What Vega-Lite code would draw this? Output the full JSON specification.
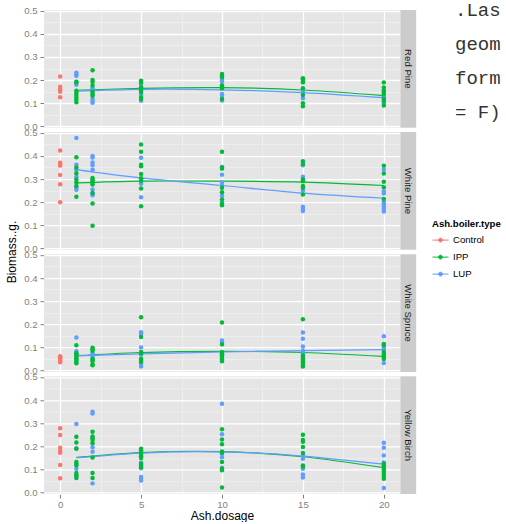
{
"$schema": "https://vega.github.io/schema/vega-lite/v6.json",
"padding": {"left": 5, "top": 0, "right": 0, "bottom": 0},
"background": "white",
"title": {"text": [".Las", "geom", "form", "= F)"], "orient": "top", "anchor": "start", "frame": "group", "align": "left", "baseline": "top", "font": "Liberation Mono", "fontSize": 19, "fontWeight": "normal", "color": "#333333", "lineHeight": 34, "dx": 411, "dy": -7, "offset": -123},
"data": {"values": [
{"k":"p","s":"Red Pine","t":"Control","x":0,"y":0.215},{"k":"p","s":"Red Pine","t":"Control","x":0,"y":0.171},{"k":"p","s":"Red Pine","t":"Control","x":0,"y":0.16},{"k":"p","s":"Red Pine","t":"Control","x":0,"y":0.15},{"k":"p","s":"Red Pine","t":"Control","x":0,"y":0.126},
{"k":"p","s":"Red Pine","t":"LUP","x":1,"y":0.232},{"k":"p","s":"Red Pine","t":"LUP","x":1,"y":0.225},{"k":"p","s":"Red Pine","t":"LUP","x":1,"y":0.219},{"k":"p","s":"Red Pine","t":"LUP","x":1,"y":0.18},
{"k":"p","s":"Red Pine","t":"IPP","x":1,"y":0.193},{"k":"p","s":"Red Pine","t":"IPP","x":1,"y":0.19},{"k":"p","s":"Red Pine","t":"IPP","x":1,"y":0.154},{"k":"p","s":"Red Pine","t":"IPP","x":1,"y":0.145},{"k":"p","s":"Red Pine","t":"IPP","x":1,"y":0.135},{"k":"p","s":"Red Pine","t":"IPP","x":1,"y":0.125},{"k":"p","s":"Red Pine","t":"IPP","x":1,"y":0.115},{"k":"p","s":"Red Pine","t":"IPP","x":1,"y":0.104},
{"k":"p","s":"Red Pine","t":"LUP","x":2,"y":0.165},{"k":"p","s":"Red Pine","t":"LUP","x":2,"y":0.118},{"k":"p","s":"Red Pine","t":"LUP","x":2,"y":0.11},{"k":"p","s":"Red Pine","t":"LUP","x":2,"y":0.102},
{"k":"p","s":"Red Pine","t":"IPP","x":2,"y":0.242},{"k":"p","s":"Red Pine","t":"IPP","x":2,"y":0.2},{"k":"p","s":"Red Pine","t":"IPP","x":2,"y":0.192},{"k":"p","s":"Red Pine","t":"IPP","x":2,"y":0.176},{"k":"p","s":"Red Pine","t":"IPP","x":2,"y":0.148},{"k":"p","s":"Red Pine","t":"IPP","x":2,"y":0.14},{"k":"p","s":"Red Pine","t":"IPP","x":2,"y":0.132},
{"k":"p","s":"Red Pine","t":"LUP","x":5,"y":0.183},{"k":"p","s":"Red Pine","t":"LUP","x":5,"y":0.132},{"k":"p","s":"Red Pine","t":"LUP","x":5,"y":0.111},
{"k":"p","s":"Red Pine","t":"IPP","x":5,"y":0.197},{"k":"p","s":"Red Pine","t":"IPP","x":5,"y":0.19},{"k":"p","s":"Red Pine","t":"IPP","x":5,"y":0.169},{"k":"p","s":"Red Pine","t":"IPP","x":5,"y":0.154},{"k":"p","s":"Red Pine","t":"IPP","x":5,"y":0.146},{"k":"p","s":"Red Pine","t":"IPP","x":5,"y":0.124},{"k":"p","s":"Red Pine","t":"IPP","x":5,"y":0.118},
{"k":"p","s":"Red Pine","t":"LUP","x":10,"y":0.205},{"k":"p","s":"Red Pine","t":"LUP","x":10,"y":0.195},{"k":"p","s":"Red Pine","t":"LUP","x":10,"y":0.14},{"k":"p","s":"Red Pine","t":"LUP","x":10,"y":0.132},{"k":"p","s":"Red Pine","t":"LUP","x":10,"y":0.112},
{"k":"p","s":"Red Pine","t":"IPP","x":10,"y":0.226},{"k":"p","s":"Red Pine","t":"IPP","x":10,"y":0.22},{"k":"p","s":"Red Pine","t":"IPP","x":10,"y":0.213},{"k":"p","s":"Red Pine","t":"IPP","x":10,"y":0.178},{"k":"p","s":"Red Pine","t":"IPP","x":10,"y":0.17},{"k":"p","s":"Red Pine","t":"IPP","x":10,"y":0.163},{"k":"p","s":"Red Pine","t":"IPP","x":10,"y":0.118},
{"k":"p","s":"Red Pine","t":"LUP","x":15,"y":0.16},{"k":"p","s":"Red Pine","t":"LUP","x":15,"y":0.15},{"k":"p","s":"Red Pine","t":"LUP","x":15,"y":0.121},
{"k":"p","s":"Red Pine","t":"IPP","x":15,"y":0.208},{"k":"p","s":"Red Pine","t":"IPP","x":15,"y":0.203},{"k":"p","s":"Red Pine","t":"IPP","x":15,"y":0.196},{"k":"p","s":"Red Pine","t":"IPP","x":15,"y":0.19},{"k":"p","s":"Red Pine","t":"IPP","x":15,"y":0.165},{"k":"p","s":"Red Pine","t":"IPP","x":15,"y":0.135},{"k":"p","s":"Red Pine","t":"IPP","x":15,"y":0.1},{"k":"p","s":"Red Pine","t":"IPP","x":15,"y":0.087},
{"k":"p","s":"Red Pine","t":"LUP","x":20,"y":0.13},{"k":"p","s":"Red Pine","t":"LUP","x":20,"y":0.125},{"k":"p","s":"Red Pine","t":"LUP","x":20,"y":0.1},
{"k":"p","s":"Red Pine","t":"IPP","x":20,"y":0.19},{"k":"p","s":"Red Pine","t":"IPP","x":20,"y":0.168},{"k":"p","s":"Red Pine","t":"IPP","x":20,"y":0.155},{"k":"p","s":"Red Pine","t":"IPP","x":20,"y":0.148},{"k":"p","s":"Red Pine","t":"IPP","x":20,"y":0.14},{"k":"p","s":"Red Pine","t":"IPP","x":20,"y":0.118},{"k":"p","s":"Red Pine","t":"IPP","x":20,"y":0.11},{"k":"p","s":"Red Pine","t":"IPP","x":20,"y":0.09},

{"k":"p","s":"White Pine","t":"Control","x":0,"y":0.423},{"k":"p","s":"White Pine","t":"Control","x":0,"y":0.37},{"k":"p","s":"White Pine","t":"Control","x":0,"y":0.365},{"k":"p","s":"White Pine","t":"Control","x":0,"y":0.358},{"k":"p","s":"White Pine","t":"Control","x":0,"y":0.318},{"k":"p","s":"White Pine","t":"Control","x":0,"y":0.277},{"k":"p","s":"White Pine","t":"Control","x":0,"y":0.2},
{"k":"p","s":"White Pine","t":"LUP","x":1,"y":0.478},{"k":"p","s":"White Pine","t":"LUP","x":1,"y":0.362},{"k":"p","s":"White Pine","t":"LUP","x":1,"y":0.34},{"k":"p","s":"White Pine","t":"LUP","x":1,"y":0.31},{"k":"p","s":"White Pine","t":"LUP","x":1,"y":0.265},{"k":"p","s":"White Pine","t":"LUP","x":1,"y":0.254},
{"k":"p","s":"White Pine","t":"IPP","x":1,"y":0.394},{"k":"p","s":"White Pine","t":"IPP","x":1,"y":0.35},{"k":"p","s":"White Pine","t":"IPP","x":1,"y":0.325},{"k":"p","s":"White Pine","t":"IPP","x":1,"y":0.298},{"k":"p","s":"White Pine","t":"IPP","x":1,"y":0.285},{"k":"p","s":"White Pine","t":"IPP","x":1,"y":0.27},{"k":"p","s":"White Pine","t":"IPP","x":1,"y":0.223},
{"k":"p","s":"White Pine","t":"LUP","x":2,"y":0.4},{"k":"p","s":"White Pine","t":"LUP","x":2,"y":0.393},{"k":"p","s":"White Pine","t":"LUP","x":2,"y":0.372},{"k":"p","s":"White Pine","t":"LUP","x":2,"y":0.36},{"k":"p","s":"White Pine","t":"LUP","x":2,"y":0.34},{"k":"p","s":"White Pine","t":"LUP","x":2,"y":0.255},{"k":"p","s":"White Pine","t":"LUP","x":2,"y":0.237},{"k":"p","s":"White Pine","t":"LUP","x":2,"y":0.23},
{"k":"p","s":"White Pine","t":"IPP","x":2,"y":0.305},{"k":"p","s":"White Pine","t":"IPP","x":2,"y":0.298},{"k":"p","s":"White Pine","t":"IPP","x":2,"y":0.29},{"k":"p","s":"White Pine","t":"IPP","x":2,"y":0.283},{"k":"p","s":"White Pine","t":"IPP","x":2,"y":0.276},{"k":"p","s":"White Pine","t":"IPP","x":2,"y":0.24},{"k":"p","s":"White Pine","t":"IPP","x":2,"y":0.194},{"k":"p","s":"White Pine","t":"IPP","x":2,"y":0.098},
{"k":"p","s":"White Pine","t":"LUP","x":5,"y":0.392},{"k":"p","s":"White Pine","t":"LUP","x":5,"y":0.288},{"k":"p","s":"White Pine","t":"LUP","x":5,"y":0.28},{"k":"p","s":"White Pine","t":"LUP","x":5,"y":0.221},
{"k":"p","s":"White Pine","t":"IPP","x":5,"y":0.449},{"k":"p","s":"White Pine","t":"IPP","x":5,"y":0.418},{"k":"p","s":"White Pine","t":"IPP","x":5,"y":0.362},{"k":"p","s":"White Pine","t":"IPP","x":5,"y":0.355},{"k":"p","s":"White Pine","t":"IPP","x":5,"y":0.322},{"k":"p","s":"White Pine","t":"IPP","x":5,"y":0.303},{"k":"p","s":"White Pine","t":"IPP","x":5,"y":0.293},{"k":"p","s":"White Pine","t":"IPP","x":5,"y":0.259},{"k":"p","s":"White Pine","t":"IPP","x":5,"y":0.182},
{"k":"p","s":"White Pine","t":"LUP","x":10,"y":0.352},{"k":"p","s":"White Pine","t":"LUP","x":10,"y":0.319},{"k":"p","s":"White Pine","t":"LUP","x":10,"y":0.285},{"k":"p","s":"White Pine","t":"LUP","x":10,"y":0.272},{"k":"p","s":"White Pine","t":"LUP","x":10,"y":0.228},{"k":"p","s":"White Pine","t":"LUP","x":10,"y":0.2},
{"k":"p","s":"White Pine","t":"IPP","x":10,"y":0.418},{"k":"p","s":"White Pine","t":"IPP","x":10,"y":0.35},{"k":"p","s":"White Pine","t":"IPP","x":10,"y":0.345},{"k":"p","s":"White Pine","t":"IPP","x":10,"y":0.262},{"k":"p","s":"White Pine","t":"IPP","x":10,"y":0.243},{"k":"p","s":"White Pine","t":"IPP","x":10,"y":0.212},{"k":"p","s":"White Pine","t":"IPP","x":10,"y":0.192},{"k":"p","s":"White Pine","t":"IPP","x":10,"y":0.187},
{"k":"p","s":"White Pine","t":"LUP","x":15,"y":0.36},{"k":"p","s":"White Pine","t":"LUP","x":15,"y":0.31},{"k":"p","s":"White Pine","t":"LUP","x":15,"y":0.25},{"k":"p","s":"White Pine","t":"LUP","x":15,"y":0.18},{"k":"p","s":"White Pine","t":"LUP","x":15,"y":0.17},{"k":"p","s":"White Pine","t":"LUP","x":15,"y":0.162},
{"k":"p","s":"White Pine","t":"IPP","x":15,"y":0.377},{"k":"p","s":"White Pine","t":"IPP","x":15,"y":0.365},{"k":"p","s":"White Pine","t":"IPP","x":15,"y":0.298},{"k":"p","s":"White Pine","t":"IPP","x":15,"y":0.29},{"k":"p","s":"White Pine","t":"IPP","x":15,"y":0.27},{"k":"p","s":"White Pine","t":"IPP","x":15,"y":0.262},{"k":"p","s":"White Pine","t":"IPP","x":15,"y":0.233},
{"k":"p","s":"White Pine","t":"LUP","x":20,"y":0.341},{"k":"p","s":"White Pine","t":"LUP","x":20,"y":0.247},{"k":"p","s":"White Pine","t":"LUP","x":20,"y":0.238},{"k":"p","s":"White Pine","t":"LUP","x":20,"y":0.2},{"k":"p","s":"White Pine","t":"LUP","x":20,"y":0.19},{"k":"p","s":"White Pine","t":"LUP","x":20,"y":0.18},{"k":"p","s":"White Pine","t":"LUP","x":20,"y":0.17},{"k":"p","s":"White Pine","t":"LUP","x":20,"y":0.16},
{"k":"p","s":"White Pine","t":"IPP","x":20,"y":0.358},{"k":"p","s":"White Pine","t":"IPP","x":20,"y":0.324},{"k":"p","s":"White Pine","t":"IPP","x":20,"y":0.288},{"k":"p","s":"White Pine","t":"IPP","x":20,"y":0.265},{"k":"p","s":"White Pine","t":"IPP","x":20,"y":0.214},

{"k":"p","s":"White Spruce","t":"Control","x":0,"y":0.062},{"k":"p","s":"White Spruce","t":"Control","x":0,"y":0.057},{"k":"p","s":"White Spruce","t":"Control","x":0,"y":0.052},{"k":"p","s":"White Spruce","t":"Control","x":0,"y":0.047},{"k":"p","s":"White Spruce","t":"Control","x":0,"y":0.042},{"k":"p","s":"White Spruce","t":"Control","x":0,"y":0.036},
{"k":"p","s":"White Spruce","t":"LUP","x":1,"y":0.143},{"k":"p","s":"White Spruce","t":"LUP","x":1,"y":0.083},{"k":"p","s":"White Spruce","t":"LUP","x":1,"y":0.07},{"k":"p","s":"White Spruce","t":"LUP","x":1,"y":0.05},
{"k":"p","s":"White Spruce","t":"IPP","x":1,"y":0.109},{"k":"p","s":"White Spruce","t":"IPP","x":1,"y":0.075},{"k":"p","s":"White Spruce","t":"IPP","x":1,"y":0.068},{"k":"p","s":"White Spruce","t":"IPP","x":1,"y":0.06},{"k":"p","s":"White Spruce","t":"IPP","x":1,"y":0.052},{"k":"p","s":"White Spruce","t":"IPP","x":1,"y":0.045},{"k":"p","s":"White Spruce","t":"IPP","x":1,"y":0.038},{"k":"p","s":"White Spruce","t":"IPP","x":1,"y":0.031},
{"k":"p","s":"White Spruce","t":"LUP","x":2,"y":0.075},{"k":"p","s":"White Spruce","t":"LUP","x":2,"y":0.068},{"k":"p","s":"White Spruce","t":"LUP","x":2,"y":0.06},
{"k":"p","s":"White Spruce","t":"IPP","x":2,"y":0.098},{"k":"p","s":"White Spruce","t":"IPP","x":2,"y":0.092},{"k":"p","s":"White Spruce","t":"IPP","x":2,"y":0.085},{"k":"p","s":"White Spruce","t":"IPP","x":2,"y":0.05},{"k":"p","s":"White Spruce","t":"IPP","x":2,"y":0.045},{"k":"p","s":"White Spruce","t":"IPP","x":2,"y":0.041},{"k":"p","s":"White Spruce","t":"IPP","x":2,"y":0.026},{"k":"p","s":"White Spruce","t":"IPP","x":2,"y":0.023},
{"k":"p","s":"White Spruce","t":"LUP","x":5,"y":0.165},{"k":"p","s":"White Spruce","t":"LUP","x":5,"y":0.158},{"k":"p","s":"White Spruce","t":"LUP","x":5,"y":0.1},{"k":"p","s":"White Spruce","t":"LUP","x":5,"y":0.068},{"k":"p","s":"White Spruce","t":"LUP","x":5,"y":0.03},{"k":"p","s":"White Spruce","t":"LUP","x":5,"y":0.017},
{"k":"p","s":"White Spruce","t":"IPP","x":5,"y":0.23},{"k":"p","s":"White Spruce","t":"IPP","x":5,"y":0.145},{"k":"p","s":"White Spruce","t":"IPP","x":5,"y":0.08},{"k":"p","s":"White Spruce","t":"IPP","x":5,"y":0.075},{"k":"p","s":"White Spruce","t":"IPP","x":5,"y":0.05},{"k":"p","s":"White Spruce","t":"IPP","x":5,"y":0.045},{"k":"p","s":"White Spruce","t":"IPP","x":5,"y":0.038},
{"k":"p","s":"White Spruce","t":"LUP","x":10,"y":0.13},{"k":"p","s":"White Spruce","t":"LUP","x":10,"y":0.122},{"k":"p","s":"White Spruce","t":"LUP","x":10,"y":0.075},{"k":"p","s":"White Spruce","t":"LUP","x":10,"y":0.065},
{"k":"p","s":"White Spruce","t":"IPP","x":10,"y":0.208},{"k":"p","s":"White Spruce","t":"IPP","x":10,"y":0.113},{"k":"p","s":"White Spruce","t":"IPP","x":10,"y":0.08},{"k":"p","s":"White Spruce","t":"IPP","x":10,"y":0.07},{"k":"p","s":"White Spruce","t":"IPP","x":10,"y":0.063},{"k":"p","s":"White Spruce","t":"IPP","x":10,"y":0.055},{"k":"p","s":"White Spruce","t":"IPP","x":10,"y":0.048},{"k":"p","s":"White Spruce","t":"IPP","x":10,"y":0.04},
{"k":"p","s":"White Spruce","t":"LUP","x":15,"y":0.164},{"k":"p","s":"White Spruce","t":"LUP","x":15,"y":0.137},{"k":"p","s":"White Spruce","t":"LUP","x":15,"y":0.104},{"k":"p","s":"White Spruce","t":"LUP","x":15,"y":0.085},{"k":"p","s":"White Spruce","t":"LUP","x":15,"y":0.075},
{"k":"p","s":"White Spruce","t":"IPP","x":15,"y":0.222},{"k":"p","s":"White Spruce","t":"IPP","x":15,"y":0.065},{"k":"p","s":"White Spruce","t":"IPP","x":15,"y":0.055},{"k":"p","s":"White Spruce","t":"IPP","x":15,"y":0.048},{"k":"p","s":"White Spruce","t":"IPP","x":15,"y":0.04},{"k":"p","s":"White Spruce","t":"IPP","x":15,"y":0.032},{"k":"p","s":"White Spruce","t":"IPP","x":15,"y":0.025},{"k":"p","s":"White Spruce","t":"IPP","x":15,"y":0.017},
{"k":"p","s":"White Spruce","t":"LUP","x":20,"y":0.148},{"k":"p","s":"White Spruce","t":"LUP","x":20,"y":0.1},{"k":"p","s":"White Spruce","t":"LUP","x":20,"y":0.09},{"k":"p","s":"White Spruce","t":"LUP","x":20,"y":0.032},
{"k":"p","s":"White Spruce","t":"IPP","x":20,"y":0.115},{"k":"p","s":"White Spruce","t":"IPP","x":20,"y":0.11},{"k":"p","s":"White Spruce","t":"IPP","x":20,"y":0.08},{"k":"p","s":"White Spruce","t":"IPP","x":20,"y":0.072},{"k":"p","s":"White Spruce","t":"IPP","x":20,"y":0.065},{"k":"p","s":"White Spruce","t":"IPP","x":20,"y":0.058},{"k":"p","s":"White Spruce","t":"IPP","x":20,"y":0.05},

{"k":"p","s":"Yellow Birch","t":"Control","x":0,"y":0.278},{"k":"p","s":"Yellow Birch","t":"Control","x":0,"y":0.249},{"k":"p","s":"Yellow Birch","t":"Control","x":0,"y":0.194},{"k":"p","s":"Yellow Birch","t":"Control","x":0,"y":0.18},{"k":"p","s":"Yellow Birch","t":"Control","x":0,"y":0.172},{"k":"p","s":"Yellow Birch","t":"Control","x":0,"y":0.119},{"k":"p","s":"Yellow Birch","t":"Control","x":0,"y":0.062},
{"k":"p","s":"Yellow Birch","t":"LUP","x":1,"y":0.297},{"k":"p","s":"Yellow Birch","t":"LUP","x":1,"y":0.192},{"k":"p","s":"Yellow Birch","t":"LUP","x":1,"y":0.103},{"k":"p","s":"Yellow Birch","t":"LUP","x":1,"y":0.07},
{"k":"p","s":"Yellow Birch","t":"IPP","x":1,"y":0.242},{"k":"p","s":"Yellow Birch","t":"IPP","x":1,"y":0.217},{"k":"p","s":"Yellow Birch","t":"IPP","x":1,"y":0.19},{"k":"p","s":"Yellow Birch","t":"IPP","x":1,"y":0.132},{"k":"p","s":"Yellow Birch","t":"IPP","x":1,"y":0.125},{"k":"p","s":"Yellow Birch","t":"IPP","x":1,"y":0.118},{"k":"p","s":"Yellow Birch","t":"IPP","x":1,"y":0.085},{"k":"p","s":"Yellow Birch","t":"IPP","x":1,"y":0.075},{"k":"p","s":"Yellow Birch","t":"IPP","x":1,"y":0.063},
{"k":"p","s":"Yellow Birch","t":"LUP","x":2,"y":0.35},{"k":"p","s":"Yellow Birch","t":"LUP","x":2,"y":0.342},{"k":"p","s":"Yellow Birch","t":"LUP","x":2,"y":0.196},{"k":"p","s":"Yellow Birch","t":"LUP","x":2,"y":0.177},{"k":"p","s":"Yellow Birch","t":"LUP","x":2,"y":0.04},
{"k":"p","s":"Yellow Birch","t":"IPP","x":2,"y":0.263},{"k":"p","s":"Yellow Birch","t":"IPP","x":2,"y":0.243},{"k":"p","s":"Yellow Birch","t":"IPP","x":2,"y":0.235},{"k":"p","s":"Yellow Birch","t":"IPP","x":2,"y":0.228},{"k":"p","s":"Yellow Birch","t":"IPP","x":2,"y":0.213},{"k":"p","s":"Yellow Birch","t":"IPP","x":2,"y":0.152},{"k":"p","s":"Yellow Birch","t":"IPP","x":2,"y":0.085},{"k":"p","s":"Yellow Birch","t":"IPP","x":2,"y":0.063},
{"k":"p","s":"Yellow Birch","t":"LUP","x":5,"y":0.13},{"k":"p","s":"Yellow Birch","t":"LUP","x":5,"y":0.105},{"k":"p","s":"Yellow Birch","t":"LUP","x":5,"y":0.068},{"k":"p","s":"Yellow Birch","t":"LUP","x":5,"y":0.06},{"k":"p","s":"Yellow Birch","t":"LUP","x":5,"y":0.052},
{"k":"p","s":"Yellow Birch","t":"IPP","x":5,"y":0.19},{"k":"p","s":"Yellow Birch","t":"IPP","x":5,"y":0.183},{"k":"p","s":"Yellow Birch","t":"IPP","x":5,"y":0.175},{"k":"p","s":"Yellow Birch","t":"IPP","x":5,"y":0.163},{"k":"p","s":"Yellow Birch","t":"IPP","x":5,"y":0.157},{"k":"p","s":"Yellow Birch","t":"IPP","x":5,"y":0.15},{"k":"p","s":"Yellow Birch","t":"IPP","x":5,"y":0.125},{"k":"p","s":"Yellow Birch","t":"IPP","x":5,"y":0.118},{"k":"p","s":"Yellow Birch","t":"IPP","x":5,"y":0.11},
{"k":"p","s":"Yellow Birch","t":"LUP","x":10,"y":0.384},{"k":"p","s":"Yellow Birch","t":"LUP","x":10,"y":0.252},{"k":"p","s":"Yellow Birch","t":"LUP","x":10,"y":0.168},{"k":"p","s":"Yellow Birch","t":"LUP","x":10,"y":0.153},{"k":"p","s":"Yellow Birch","t":"LUP","x":10,"y":0.108},
{"k":"p","s":"Yellow Birch","t":"IPP","x":10,"y":0.274},{"k":"p","s":"Yellow Birch","t":"IPP","x":10,"y":0.23},{"k":"p","s":"Yellow Birch","t":"IPP","x":10,"y":0.209},{"k":"p","s":"Yellow Birch","t":"IPP","x":10,"y":0.178},{"k":"p","s":"Yellow Birch","t":"IPP","x":10,"y":0.172},{"k":"p","s":"Yellow Birch","t":"IPP","x":10,"y":0.132},{"k":"p","s":"Yellow Birch","t":"IPP","x":10,"y":0.103},{"k":"p","s":"Yellow Birch","t":"IPP","x":10,"y":0.097},{"k":"p","s":"Yellow Birch","t":"IPP","x":10,"y":0.022},
{"k":"p","s":"Yellow Birch","t":"LUP","x":15,"y":0.16},{"k":"p","s":"Yellow Birch","t":"LUP","x":15,"y":0.146},{"k":"p","s":"Yellow Birch","t":"LUP","x":15,"y":0.103},{"k":"p","s":"Yellow Birch","t":"LUP","x":15,"y":0.078},{"k":"p","s":"Yellow Birch","t":"LUP","x":15,"y":0.065},
{"k":"p","s":"Yellow Birch","t":"IPP","x":15,"y":0.25},{"k":"p","s":"Yellow Birch","t":"IPP","x":15,"y":0.228},{"k":"p","s":"Yellow Birch","t":"IPP","x":15,"y":0.22},{"k":"p","s":"Yellow Birch","t":"IPP","x":15,"y":0.197},{"k":"p","s":"Yellow Birch","t":"IPP","x":15,"y":0.171},{"k":"p","s":"Yellow Birch","t":"IPP","x":15,"y":0.117},{"k":"p","s":"Yellow Birch","t":"IPP","x":15,"y":0.113},
{"k":"p","s":"Yellow Birch","t":"LUP","x":20,"y":0.216},{"k":"p","s":"Yellow Birch","t":"LUP","x":20,"y":0.194},{"k":"p","s":"Yellow Birch","t":"LUP","x":20,"y":0.161},{"k":"p","s":"Yellow Birch","t":"LUP","x":20,"y":0.13},{"k":"p","s":"Yellow Birch","t":"LUP","x":20,"y":0.02},
{"k":"p","s":"Yellow Birch","t":"IPP","x":20,"y":0.125},{"k":"p","s":"Yellow Birch","t":"IPP","x":20,"y":0.118},{"k":"p","s":"Yellow Birch","t":"IPP","x":20,"y":0.11},{"k":"p","s":"Yellow Birch","t":"IPP","x":20,"y":0.1},{"k":"p","s":"Yellow Birch","t":"IPP","x":20,"y":0.09},{"k":"p","s":"Yellow Birch","t":"IPP","x":20,"y":0.08},{"k":"p","s":"Yellow Birch","t":"IPP","x":20,"y":0.07},{"k":"p","s":"Yellow Birch","t":"IPP","x":20,"y":0.06},

{"k":"f","s":"Red Pine","t":"IPP","x":1,"y":0.156},{"k":"f","s":"Red Pine","t":"IPP","x":5,"y":0.164},{"k":"f","s":"Red Pine","t":"IPP","x":10,"y":0.167},{"k":"f","s":"Red Pine","t":"IPP","x":15,"y":0.157},{"k":"f","s":"Red Pine","t":"IPP","x":20,"y":0.133},
{"k":"f","s":"Red Pine","t":"LUP","x":1,"y":0.152},{"k":"f","s":"Red Pine","t":"LUP","x":5,"y":0.16},{"k":"f","s":"Red Pine","t":"LUP","x":10,"y":0.158},{"k":"f","s":"Red Pine","t":"LUP","x":15,"y":0.146},{"k":"f","s":"Red Pine","t":"LUP","x":20,"y":0.124},
{"k":"f","s":"White Pine","t":"IPP","x":1,"y":0.283},{"k":"f","s":"White Pine","t":"IPP","x":5,"y":0.291},{"k":"f","s":"White Pine","t":"IPP","x":10,"y":0.291},{"k":"f","s":"White Pine","t":"IPP","x":15,"y":0.287},{"k":"f","s":"White Pine","t":"IPP","x":20,"y":0.272},
{"k":"f","s":"White Pine","t":"LUP","x":1,"y":0.341},{"k":"f","s":"White Pine","t":"LUP","x":5,"y":0.305},{"k":"f","s":"White Pine","t":"LUP","x":10,"y":0.272},{"k":"f","s":"White Pine","t":"LUP","x":15,"y":0.239},{"k":"f","s":"White Pine","t":"LUP","x":20,"y":0.217},
{"k":"f","s":"White Spruce","t":"IPP","x":1,"y":0.064},{"k":"f","s":"White Spruce","t":"IPP","x":5,"y":0.078},{"k":"f","s":"White Spruce","t":"IPP","x":10,"y":0.083},{"k":"f","s":"White Spruce","t":"IPP","x":15,"y":0.078},{"k":"f","s":"White Spruce","t":"IPP","x":20,"y":0.061},
{"k":"f","s":"White Spruce","t":"LUP","x":1,"y":0.063},{"k":"f","s":"White Spruce","t":"LUP","x":5,"y":0.072},{"k":"f","s":"White Spruce","t":"LUP","x":10,"y":0.08},{"k":"f","s":"White Spruce","t":"LUP","x":15,"y":0.086},{"k":"f","s":"White Spruce","t":"LUP","x":20,"y":0.09},
{"k":"f","s":"Yellow Birch","t":"IPP","x":1,"y":0.152},{"k":"f","s":"Yellow Birch","t":"IPP","x":5,"y":0.173},{"k":"f","s":"Yellow Birch","t":"IPP","x":10,"y":0.177},{"k":"f","s":"Yellow Birch","t":"IPP","x":15,"y":0.155},{"k":"f","s":"Yellow Birch","t":"IPP","x":20,"y":0.108},
{"k":"f","s":"Yellow Birch","t":"LUP","x":1,"y":0.15},{"k":"f","s":"Yellow Birch","t":"LUP","x":5,"y":0.171},{"k":"f","s":"Yellow Birch","t":"LUP","x":10,"y":0.176},{"k":"f","s":"Yellow Birch","t":"LUP","x":15,"y":0.158},{"k":"f","s":"Yellow Birch","t":"LUP","x":20,"y":0.123}
]},
"facet": {"row": {"field": "s", "type": "nominal", "title": "Biomass..g.", "header": {"labels": false, "labelPadding": 0, "titleOrient": "left", "titleFontSize": 12, "titleFontWeight": "normal", "titleColor": "#000000", "titleFont": "Liberation Sans", "titlePadding": -6}}},
"spacing": 4.1,
"spec": {
  "width": 356,
  "height": 117.7,
  "layer": [
    {
      "transform": [{"filter": "datum.k === 'p'"}, {"aggregate": [{"op": "count", "as": "n"}], "groupby": ["s"]}],
      "mark": {"type": "rect", "fill": "#CCCCCC"},
      "encoding": {
        "x": {"datum": 21.02, "type": "quantitative", "scale": {"domain": [-1, 21], "nice": false, "zero": false}},
        "x2": {"datum": 22},
        "y": {"datum": -0.006, "type": "quantitative", "scale": {"domain": [-0.006, 0.503], "nice": false, "zero": false}},
        "y2": {"datum": 0.503}
      }
    },
    {
      "transform": [{"filter": "datum.k === 'p'"}, {"aggregate": [{"op": "count", "as": "n"}], "groupby": ["s"]}],
      "mark": {"type": "text", "angle": 90, "fontSize": 9.6, "color": "#1A1A1A", "font": "Liberation Sans", "baseline": "middle", "align": "center"},
      "encoding": {
        "x": {"datum": 21.5, "type": "quantitative"},
        "y": {"datum": 0.2485, "type": "quantitative"},
        "text": {"field": "s", "type": "nominal"}
      }
    },
    {
      "transform": [{"filter": "datum.k === 'f'"}],
      "mark": {"type": "line", "interpolate": "natural", "strokeWidth": 1.2},
      "encoding": {
        "x": {"field": "x", "type": "quantitative"},
        "y": {"field": "y", "type": "quantitative"},
        "color": {"field": "t", "type": "nominal"}
      }
    },
    {
      "transform": [{"filter": "datum.k === 'p'"}],
      "mark": {"type": "circle", "size": 20, "opacity": 1},
      "encoding": {
        "x": {"field": "x", "type": "quantitative", "title": "Ash.dosage",
          "scale": {"domain": [-1, 21], "nice": false, "zero": false},
          "axis": {"values": [0, 2.5, 5, 7.5, 10, 12.5, 15, 17.5, 20], "tickCount": 20,
            "labelExpr": "datum.value % 5 === 0 ? format(datum.value, 'd') : ''",
            "gridColor": {"condition": {"test": "datum.value % 5 === 0", "value": "#FFFFFF"}, "value": "#F2F2F2"},
            "gridWidth": {"condition": {"test": "datum.value % 5 === 0", "value": 1.3}, "value": 0.7},
            "tickOpacity": {"condition": {"test": "datum.value % 5 === 0", "value": 1}, "value": 0},
            "labelFlush": false, "labelOverlap": false, "labelPadding": 1, "titlePadding": 2}},
        "y": {"field": "y", "type": "quantitative", "title": null,
          "scale": {"domain": [-0.006, 0.503], "nice": false, "zero": false},
          "axis": {"values": [0, 0.05, 0.1, 0.15, 0.2, 0.25, 0.3, 0.35, 0.4, 0.45, 0.5], "tickCount": 20,
            "labelExpr": "abs(datum.value * 10 - round(datum.value * 10)) < 0.01 ? format(datum.value, '.1f') : ''",
            "gridColor": {"condition": {"test": "abs(datum.value * 10 - round(datum.value * 10)) < 0.01", "value": "#FFFFFF"}, "value": "#F2F2F2"},
            "gridWidth": {"condition": {"test": "abs(datum.value * 10 - round(datum.value * 10)) < 0.01", "value": 1.3}, "value": 0.7},
            "tickOpacity": {"condition": {"test": "abs(datum.value * 10 - round(datum.value * 10)) < 0.01", "value": 1}, "value": 0},
            "labelFlush": false, "labelOverlap": false}},
        "color": {"field": "t", "type": "nominal",
          "scale": {"domain": ["Control", "IPP", "LUP"], "range": ["#F8766D", "#00BA38", "#619CFF"]},
          "legend": {"orient": "none", "legendX": 388, "legendY": 209, "title": "Ash.boiler.type",
            "titleFontSize": 9.6, "titleFontWeight": "bold", "titleColor": "#000000", "titleFont": "Liberation Sans",
            "labelFontSize": 9.6, "labelColor": "#000000", "labelFont": "Liberation Sans",
            "symbolType": "M-1,0H1M-0.24,0A0.24,0.24,0,1,0,0.24,0A0.24,0.24,0,1,0,-0.24,0Z",
            "symbolSize": 256, "symbolStrokeWidth": 1, "rowPadding": 3, "labelOffset": 4, "titlePadding": 3,
            "encode": {"symbols": {"update": {"fill": {"scale": "color", "field": "value"}, "stroke": {"scale": "color", "field": "value"}}}}}}
      }
    }
  ]
},
"config": {
  "view": {"fill": "#E5E5E5", "stroke": null},
  "font": "Liberation Sans",
  "axis": {"domain": false, "tickColor": "#7F7F7F", "tickSize": 4, "labelColor": "#7F7F7F", "labelFontSize": 9.6, "labelPadding": 3, "titleFontSize": 12, "titleFontWeight": "normal", "titleColor": "#000000", "grid": true}
}
}
